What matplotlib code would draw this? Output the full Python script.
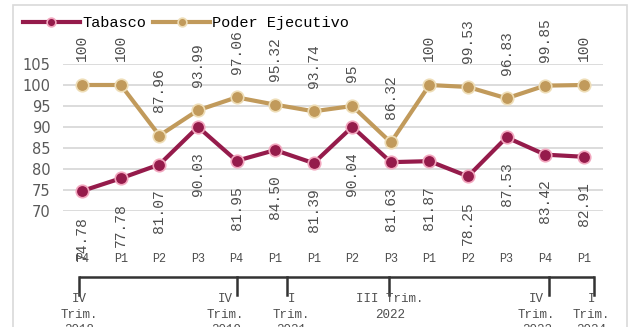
import numpy as np
import matplotlib.pyplot as plt
import matplotlib.transforms as mtransforms
from matplotlib.patches import Rectangle

# --- Data ---
periods = ['P4', 'P1', 'P2', 'P3', 'P4', 'P1', 'P1', 'P2', 'P3', 'P1', 'P2', 'P3', 'P4', 'P1']
tabasco = [74.78, 77.78, 81.07, 90.03, 81.95, 84.50, 81.39, 90.04, 81.63, 81.87, 78.25, 87.53, 83.42, 82.91]
tabasco_txt = ['74.78', '77.78', '81.07', '90.03', '81.95', '84.50', '81.39', '90.04', '81.63', '81.87',
               '78.25', '87.53', '83.42', '82.91']
ejecutivo = [100, 100, 87.96, 93.99, 97.06, 95.32, 93.74, 95, 86.32, 100, 99.53, 96.83, 99.85, 100]
ejecutivo_txt = ['100', '100', '87.96', '93.99', '97.06', '95.32', '93.74', '95', '86.32', '100',
                 '99.53', '96.83', '99.85', '100']
# outer category groups: label lines and centre position (category units)
group_labels = [['IV', 'Trim.', '2018'], ['IV', 'Trim.', '2019'], ['I', 'Trim.', '2021'],
                ['III Trim.', '2022'], ['IV', 'Trim.', '2023'], ['I', 'Trim.', '2024']]
group_centers = [-0.08, 3.72, 5.42, 7.98, 11.78, 13.2]
group_ticks = [-0.08, 4.0, 5.31, 7.95, 12.1, 13.27]

MAROON = '#951B4B'
PINK = '#F2A6BE'
GOLD = '#C19A5B'
CREAM = '#EEDDB6'
MONO = 'Liberation Mono'
TXT = '#4D4D4D'

fig = plt.figure(figsize=(6.33, 3.27), dpi=100)
W, H = 633, 327
ax = fig.add_axes([63 / W, 116 / H, 540 / W, 147 / H])

x = np.arange(len(periods))
ax.plot(x, tabasco, color=MAROON, lw=3, marker='o', ms=9, mfc=MAROON, mec=PINK, mew=1.2,
        label='Tabasco', zorder=3)
ax.plot(x, ejecutivo, color=GOLD, lw=3, marker='o', ms=9, mfc=GOLD, mec=CREAM, mew=1.2,
        label='Poder Ejecutivo', zorder=3)

for xi, v, t in zip(x, tabasco, tabasco_txt):
    ax.annotate(t, (xi, v), xytext=(0, -18), textcoords='offset points', rotation=90,
                ha='center', va='top', fontsize=10.5, family=MONO, color=TXT,
                annotation_clip=False)
for xi, v, t in zip(x, ejecutivo, ejecutivo_txt):
    ax.annotate(t, (xi, v), xytext=(0, 17), textcoords='offset points', rotation=90,
                ha='center', va='bottom', fontsize=10.5, family=MONO, color=TXT,
                annotation_clip=False)

ax.set_xlim(-0.5, len(periods) - 0.5)
ax.set_ylim(70, 105)
ax.set_yticks(np.arange(70, 106, 5))
ax.grid(axis='y', color='#D9D9D9', lw=1.3)
ax.set_axisbelow(True)
for s in ax.spines.values():
    s.set_visible(False)
ax.tick_params(axis='y', length=0, pad=9, labelsize=10.5, labelcolor='#595959')
ax.set_xticks(x)
ax.set_xticklabels(periods, family=MONO, fontsize=8.5, color=TXT)
ax.tick_params(axis='x', length=0, pad=30)

# multi-level category bracket below the period labels
tr = mtransforms.blended_transform_factory(ax.transData, fig.transFigure)
y_line = 1 - 277 / H
y_tick = 1 - 295 / H
ax.plot([group_ticks[0], group_ticks[-1]], [y_line, y_line], transform=tr, color='#333333',
        lw=1.8, clip_on=False, solid_capstyle='butt')
for gx in group_ticks:
    ax.plot([gx, gx], [y_line, y_tick], transform=tr, color='#333333', lw=1.8, clip_on=False)
for cx, lines in zip(group_centers, group_labels):
    for k, line in enumerate(lines):
        ax.text(cx, 1 - (299 + 15.5 * k) / H, line, transform=tr, ha='center', va='center',
                fontsize=9, family=MONO, color=TXT, clip_on=False)

leg = ax.legend(loc='upper left', bbox_to_anchor=(17 / W, 1 - 10 / H), bbox_transform=fig.transFigure,
                ncol=2, frameon=False, prop={'family': MONO, 'size': 11}, handlelength=3.7,
                handletextpad=0.15, columnspacing=0.5, borderaxespad=0, markerscale=0.7)

# chart frame
fig.patches.append(Rectangle((13 / W, -0.05), 614 / W, 1.05 - 5 / H, transform=fig.transFigure,
                             fill=False, edgecolor='#D9D9D9', lw=1.2))

fig.savefig('out.png', dpi=100)
